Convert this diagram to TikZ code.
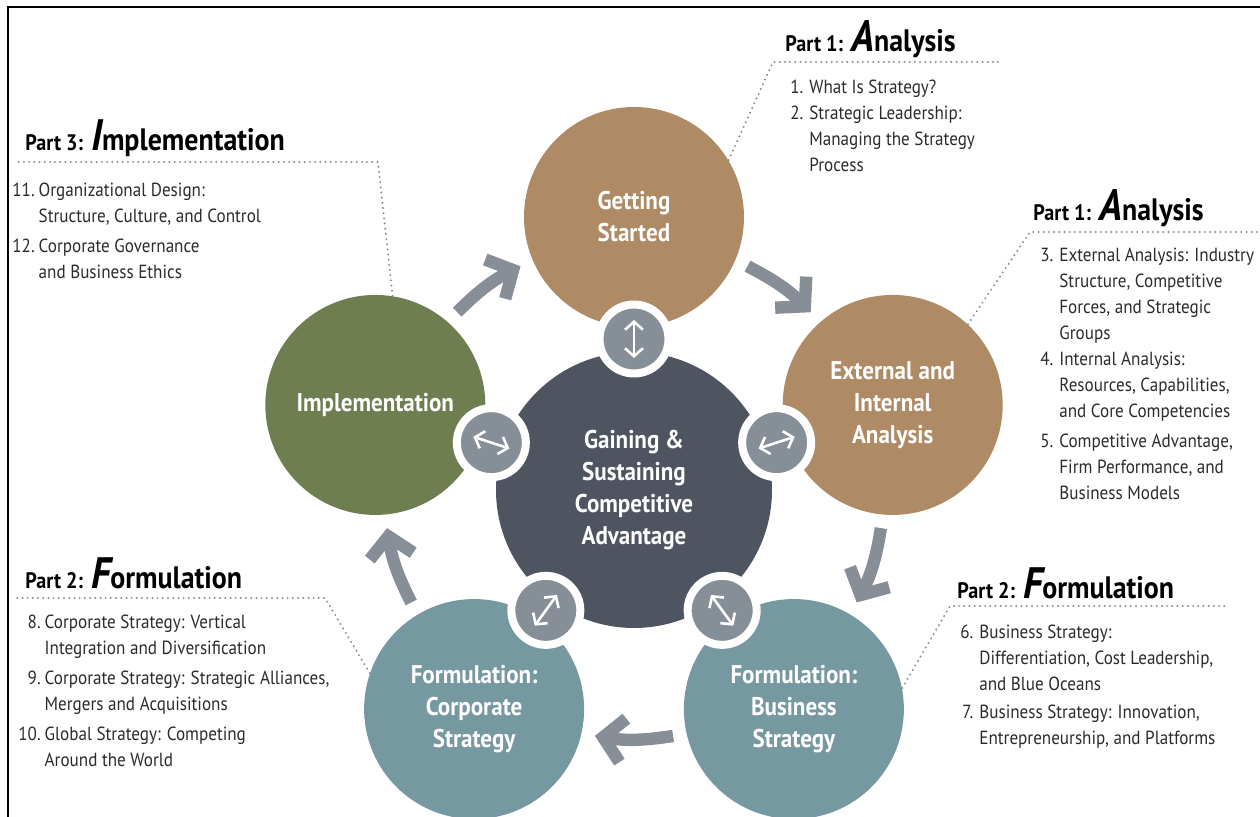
\documentclass[tikz,border=0pt]{standalone}
\usepackage{fontspec}
\setmainfont{PT Sans}[FakeStretch=0.9]
\usetikzlibrary{arrows.meta,calc}

\definecolor{tanStage}{HTML}{AE8A65}
\definecolor{greenStage}{HTML}{6E7E51}
\definecolor{tealStage}{HTML}{7698A0}
\definecolor{coreGray}{HTML}{4E5560}
\definecolor{linkGray}{HTML}{868E97}
\definecolor{arrowGray}{HTML}{878E98}
\definecolor{dotGray}{HTML}{8C8C8C}
\definecolor{listGray}{HTML}{2B2B2B}

\newcommand{\parthead}[3]{{\fontsize{11.2}{12}\selectfont #1\hspace{4pt}}%
  {\fontsize{22}{22}\selectfont\itshape #2}%
  {\fontsize{15.5}{17}\selectfont #3}}

\begin{document}
\begin{tikzpicture}
[x=0.5pt,y=-0.5pt,
  stageDecorate/.style={shape=circle,minimum size=110pt,inner sep=0pt,text=white,
    align=center,font=\bfseries\fontsize{12.8}{16}\selectfont},
  coreDecorate/.style={shape=circle,minimum size=138pt,inner sep=0pt,fill=coreGray,
    text=white,align=center,font=\bfseries\fontsize{12.8}{16}\selectfont},
  linkDecorate/.style={shape=circle,minimum size=34.5pt,inner sep=0pt,fill=linkGray,
    draw=white,line width=4pt},
  dblDecorate/.style={white,line width=1.3pt,
    {Straight Barb[length=4pt,width=9pt]}-{Straight Barb[length=4pt,width=9pt]}},
  arrowDecorate/.style={arrowGray,line width=6.2pt,
    -{Straight Barb[length=10pt,width=22pt,sharp]}},
  leaderDecorate/.style={dotGray,line width=1.1pt,line cap=round,
    dash pattern=on 0pt off 2.6pt},
  headDecorate/.style={anchor=base west,inner sep=0pt,font=\bfseries},
  listDecorate/.style={anchor=base west,inner sep=0pt,text=listGray,
    font=\fontsize{9.5}{13}\selectfont}]
\useasboundingbox (0,0) rectangle (1260,817);
%% frame
\draw[line width=1.2pt] (8,817) -- (8,7) -- (1260,7);
\coordinate (C) at (634,489);
%% cycle arrows
\foreach \s/\e in {-135/-117, -63/-45, 9/27, 81/99, 153/171}
{
  \coordinate (arrowStart) at ($(C)+(\s:250)$);
  \coordinate (arrowEnd) at ($(C)+(\e:250)$);
  \draw[arrowDecorate] (arrowStart) to[bend left=9] (arrowEnd);
}
%% stages
\foreach \nodename/\ang/\col/\txt in {
  getting/-90/tanStage/Getting\\Started,
  external/-18/tanStage/External and\\Internal\\Analysis,
  business/54/tealStage/Formulation:\\Business\\Strategy,
  corporate/126/tealStage/Formulation:\\Corporate\\Strategy,
  implementation/198/greenStage/Implementation}
{
  \node (\nodename) at ($(C)+(\ang:272)$) [stageDecorate,fill=\col] {\txt};
}
\node (core) at (634,490) [coreDecorate] {Gaining \&\\Sustaining\\Competitive\\Advantage};
%% links between core and stages
\foreach \nodename/\ang in {
  linkA/-90, linkB/-18, linkC/54, linkD/126, linkE/198}
{
  \node (\nodename) at ($(C)+(\ang:150)$) [linkDecorate] {};
  \draw[dblDecorate] ([shift={(\ang:19)}]\nodename.center)
    -- ([shift={({\ang+180}:19)}]\nodename.center);
}
%% leaders to the part headings
\foreach \nodename/\ang/\cx/\cy/\ex in {
  getting/31/773/62/1000, external/47/1030/232/1260,
  implementation/81/378/162/15, corporate/161/325/598/15,
  business/11/950/606/1228}
{
  \coordinate (corner) at (\cx,\cy);
  \coordinate (leaderEnd) at (\ex,\cy);
  \draw[leaderDecorate] (\nodename.\ang) -- (corner) -- (leaderEnd);
}
%% part headings
\node (headA) at (785,52) [headDecorate] {\parthead{Part 1:}{A}{nalysis}};
\node (headB) at (1033,221) [headDecorate] {\parthead{Part 1:}{A}{nalysis}};
\node (headC) at (25,151) [headDecorate] {\parthead{Part 3:}{I}{mplementation}};
\node (headD) at (25,589) [headDecorate] {\parthead{Part 2:}{F}{ormulation}};
\node (headE) at (957,599) [headDecorate] {\parthead{Part 2:}{F}{ormulation}};
%% chapter lists
\node (listA) at (790,94) [listDecorate] {\begin{tabular}[t]{@{}r@{\hspace{3pt}}l@{}}
  1. & What Is Strategy?\\
  2. & Strategic Leadership:\\
     & Managing the Strategy\\
     & Process
\end{tabular}};
\node (listB) at (1040,262) [listDecorate] {\begin{tabular}[t]{@{}r@{\hspace{3pt}}l@{}}
  3. & External Analysis: Industry\\
     & Structure, Competitive\\
     & Forces, and Strategic\\
     & Groups\\
  4. & Internal Analysis:\\
     & Resources, Capabilities,\\
     & and Core Competencies\\[2pt]
  5. & Competitive Advantage,\\
     & Firm Performance, and\\
     & Business Models
\end{tabular}};
\node (listC) at (12,197) [listDecorate] {\begin{tabular}[t]{@{}r@{\hspace{2pt}}l@{}}
  11. & Organizational Design:\\
      & Structure, Culture, and Control\\[2pt]
  12. & Corporate Governance\\
      & and Business Ethics
\end{tabular}};
\node (listD) at (18,629) [listDecorate] {\begin{tabular}[t]{@{}r@{\hspace{2pt}}l@{}}
  8. & Corporate Strategy: Vertical\\
     & Integration and Diversification\\[2pt]
  9. & Corporate Strategy: Strategic Alliances,\\
     & Mergers and Acquisitions\\[2pt]
  10. & Global Strategy: Competing\\
      & Around the World
\end{tabular}};
\node (listE) at (960,639) [listDecorate] {\begin{tabular}[t]{@{}r@{\hspace{3pt}}l@{}}
  6. & Business Strategy:\\
     & Differentiation, Cost Leadership,\\
     & and Blue Oceans\\[1pt]
  7. & Business Strategy: Innovation,\\
     & Entrepreneurship, and Platforms
\end{tabular}};
\end{tikzpicture}
\end{document}
